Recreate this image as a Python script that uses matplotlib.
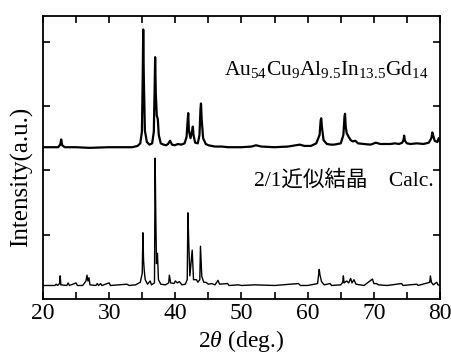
import matplotlib
matplotlib.use("Agg")
import matplotlib.pyplot as plt

# measured pattern (plot units, already offset)
exp_2theta = [20.0, 21.5, 22.3, 22.6, 22.75, 22.9, 23.3, 25.0, 27.0, 30.0, 32.0, 33.5, 34.3,
              34.7, 34.95, 35.08, 35.15, 35.23, 35.4, 35.7, 36.1, 36.5, 36.75, 36.88,
              36.95, 37.05, 37.2, 37.35, 37.5, 37.8, 38.2, 38.6, 38.9, 39.2, 39.5, 39.9,
              40.4, 40.9, 41.4, 41.7, 41.88, 41.95, 42.05, 42.3, 42.55, 42.65, 42.75, 43.0,
              43.4, 43.65, 43.8, 43.88, 43.98, 44.2, 44.6, 45.0, 46.0, 47.0, 48.0, 50.0,
              51.5, 52.2, 53.0, 55.0, 57.0, 58.2, 58.8, 59.5, 60.5, 61.3, 61.8, 61.97,
              62.05, 62.15, 62.4, 62.9, 63.5, 64.0, 65.0, 65.4, 65.57, 65.65, 65.75, 65.9,
              66.2, 66.5, 66.8, 67.2, 67.6, 68.5, 69.5, 70.3, 71.0, 72.5, 73.2, 73.8,
              74.3, 74.5, 74.58, 74.7, 75.0, 75.5, 76.5, 77.5, 78.3, 78.7, 78.85, 78.95,
              79.2, 79.6, 79.8, 80.0]
exp_int = [2.36, 2.36, 2.36, 2.40, 2.48, 2.39, 2.36, 2.36, 2.35, 2.36, 2.36, 2.36, 2.38,
           2.42, 2.60, 3.50, 4.19, 3.50, 2.62, 2.44, 2.40, 2.42, 2.60, 3.30,
           3.76, 3.20, 2.85, 2.80, 2.55, 2.42, 2.40, 2.39, 2.41, 2.46, 2.40, 2.39,
           2.41, 2.40, 2.42, 2.52, 2.80, 2.89, 2.62, 2.50, 2.62, 2.68, 2.55, 2.43,
           2.42, 2.55, 2.95, 3.04, 2.80, 2.50, 2.41, 2.39, 2.37, 2.37, 2.36, 2.36,
           2.37, 2.39, 2.37, 2.36, 2.37, 2.39, 2.40, 2.38, 2.38, 2.42, 2.55, 2.78,
           2.81, 2.68, 2.47, 2.41, 2.40, 2.40, 2.42, 2.55, 2.84, 2.88, 2.68, 2.58,
           2.52, 2.47, 2.45, 2.46, 2.42, 2.41, 2.40, 2.43, 2.41, 2.41, 2.42, 2.41,
           2.43, 2.48, 2.54, 2.46, 2.42, 2.41, 2.42, 2.41, 2.43, 2.50, 2.59, 2.55,
           2.46, 2.44, 2.50, 2.45]

# calculated pattern of the 2/1 approximant
calc_2theta = [20.0, 21.8, 22.0, 22.2, 22.5, 22.6, 22.7, 23.6, 23.8, 24.0, 25.0, 25.2, 26.0,
               26.5, 26.65, 26.8, 26.95, 27.1, 28.0, 28.2, 28.4, 28.7, 28.9, 30.0, 30.2,
               32.7, 33.0, 34.0, 34.7, 35.0, 35.1, 35.2, 35.3, 35.45, 35.8, 36.2, 36.4,
               36.85, 36.95, 37.05, 37.15, 37.3, 37.45, 37.8, 38.5, 39.0, 39.1, 39.3, 39.8,
               40.0, 40.3, 40.6, 41.0, 41.5, 41.8, 41.9, 42.05, 42.2, 42.55, 42.75, 43.2,
               43.4, 43.7, 43.8, 44.0, 44.3, 44.6, 45.0, 45.5, 46.0, 46.45, 46.7, 47.9,
               48.1, 49.5, 50.0, 52.0, 55.0, 58.6, 58.9, 60.0, 61.5, 61.75, 61.85, 62.1,
               62.5, 63.4, 63.6, 65.0, 65.3, 65.4, 65.5, 65.9, 66.2, 66.5, 66.7, 67.0,
               67.3, 68.5, 69.8, 70.0, 70.4, 70.7, 72.0, 74.2, 74.4, 76.5, 76.7, 78.45,
               78.55, 78.7, 79.0, 79.5, 79.7, 80.0]
calc_int = [0.21, 0.21, 0.23, 0.21, 0.24, 0.36, 0.22, 0.21, 0.25, 0.21, 0.25, 0.21, 0.21,
            0.28, 0.37, 0.28, 0.33, 0.22, 0.21, 0.24, 0.21, 0.24, 0.21, 0.25, 0.21,
            0.23, 0.21, 0.22, 0.26, 0.40, 1.03, 0.60, 0.45, 0.30, 0.23, 0.28, 0.22,
            0.25, 2.19, 1.28, 0.55, 0.71, 0.30, 0.23, 0.22, 0.25, 0.37, 0.25, 0.24,
            0.28, 0.25, 0.27, 0.22, 0.23, 0.30, 1.34, 0.81, 0.36, 0.76, 0.30, 0.30,
            0.26, 0.30, 0.82, 0.35, 0.26, 0.26, 0.23, 0.24, 0.22, 0.29, 0.23, 0.24,
            0.21, 0.22, 0.21, 0.22, 0.21, 0.24, 0.21, 0.21, 0.24, 0.46, 0.38, 0.27,
            0.22, 0.24, 0.21, 0.22, 0.26, 0.36, 0.25, 0.28, 0.25, 0.32, 0.25, 0.30,
            0.23, 0.21, 0.31, 0.24, 0.24, 0.22, 0.21, 0.24, 0.21, 0.23, 0.21, 0.26,
            0.36, 0.26, 0.22, 0.26, 0.22, 0.21]

xticks = [20, 30, 40, 50, 60, 70, 80]
yticks = [1, 2, 3, 4]

plt.rcParams['font.family'] = ['Liberation Serif', 'Noto Sans CJK JP']
plt.rcParams['mathtext.fontset'] = 'custom'
plt.rcParams['mathtext.rm'] = 'Liberation Serif'
plt.rcParams['mathtext.it'] = 'Liberation Serif:italic'

fig = plt.figure(figsize=(4.51, 3.54), dpi=100)
ax = fig.add_axes([0.0953, 0.1554, 0.8803, 0.7994])

ax.plot(exp_2theta, exp_int, color='black', lw=1.6)
ax.plot(calc_2theta, calc_int, color='black', lw=1.0)

ax.set_xlim(20, 80)
ax.set_ylim(0, 4.4)
ax.set_xticks(xticks)
ax.set_xticks(range(25, 80, 10), minor=True)
ax.set_yticks(yticks)
ax.set_yticklabels([])
ax.tick_params(which='both', direction='in', top=True, right=True, length=5, width=1.2)
ax.tick_params(axis='x', labelsize=17, pad=3)
for s in ax.spines.values():
    s.set_linewidth(1.3)

ax.set_xlabel(r'2$\mathit{\theta}$ (deg.)', fontsize=17, labelpad=3)
ax.set_ylabel('Intensity(a.u.)', fontsize=18)
ax.yaxis.set_label_coords(-0.025, 0.43)

ax.text(0.97, 0.81, r'$\mathrm{Au_{54}Cu_{9}Al_{9.5}In_{13.5}Gd_{14}}$', transform=ax.transAxes,
        ha='right', va='center', fontsize=15.5)
ax.text(0.985, 0.42, '2/1近似結晶　Calc.', transform=ax.transAxes,
        ha='right', va='center', fontsize=15.5)

fig.savefig('out.png', dpi=100)
